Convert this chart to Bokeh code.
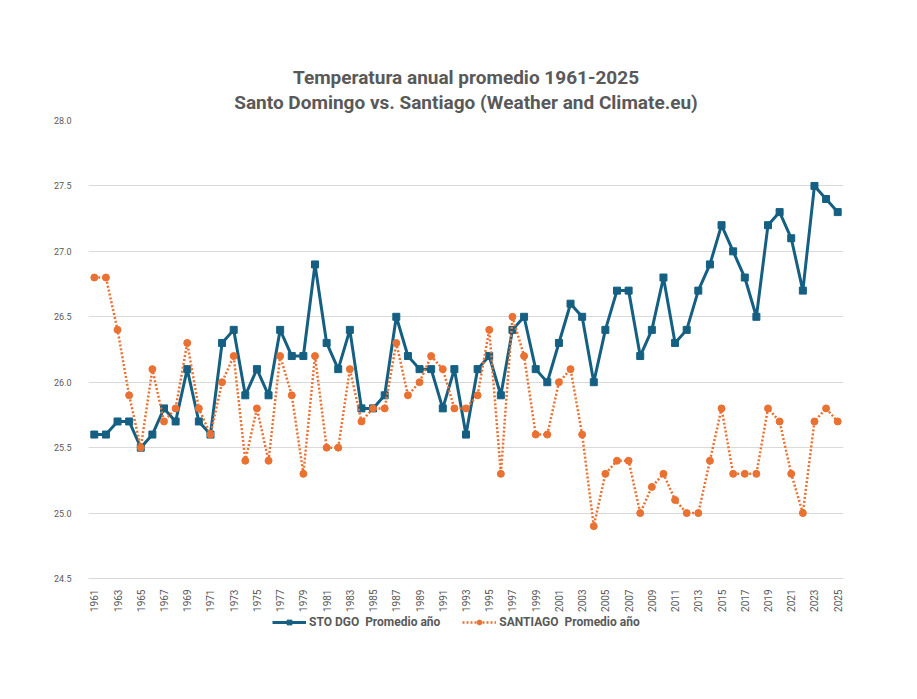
import numpy as np
from bokeh.plotting import figure
from bokeh.layouts import column
from bokeh.models import (ColumnDataSource, FixedTicker, PrintfTickFormatter, Legend,
                          LegendItem, Range1d, Title)
from bokeh.embed import file_html
from bokeh.resources import INLINE

years = list(range(1961, 2026))
sto_dgo = [25.6, 25.6, 25.7, 25.7, 25.5, 25.6, 25.8, 25.7, 26.1, 25.7,
           25.6, 26.3, 26.4, 25.9, 26.1, 25.9, 26.4, 26.2, 26.2, 26.9,
           26.3, 26.1, 26.4, 25.8, 25.8, 25.9, 26.5, 26.2, 26.1, 26.1,
           25.8, 26.1, 25.6, 26.1, 26.2, 25.9, 26.4, 26.5, 26.1, 26.0,
           26.3, 26.6, 26.5, 26.0, 26.4, 26.7, 26.7, 26.2, 26.4, 26.8,
           26.3, 26.4, 26.7, 26.9, 27.2, 27.0, 26.8, 26.5, 27.2, 27.3,
           27.1, 26.7, 27.5, 27.4, 27.3]
santiago = [26.8, 26.8, 26.4, 25.9, 25.5, 26.1, 25.7, 25.8, 26.3, 25.8,
            25.6, 26.0, 26.2, 25.4, 25.8, 25.4, 26.2, 25.9, 25.3, 26.2,
            25.5, 25.5, 26.1, 25.7, 25.8, 25.8, 26.3, 25.9, 26.0, 26.2,
            26.1, 25.8, 25.8, 25.9, 26.4, 25.3, 26.5, 26.2, 25.6, 25.6,
            26.0, 26.1, 25.6, 24.9, 25.3, 25.4, 25.4, 25.0, 25.2, 25.3,
            25.1, 25.0, 25.0, 25.4, 25.8, 25.3, 25.3, 25.3, 25.8, 25.7,
            25.3, 25.0, 25.7, 25.8, 25.7]
y_ticks = [24.5, 25.0, 25.5, 26.0, 26.5, 27.0, 27.5, 28.0]
x_ticks = years[::2]
title_line1 = "Temperatura anual promedio 1961-2025"
title_line2 = "Santo Domingo vs. Santiago (Weather and Climate.eu)"
label_sto = "STO DGO  Promedio año"
label_stgo = "SANTIAGO  Promedio año"

BLUE = "#156082"
ORANGE = "#E97132"
GRAY = "#595959"
GRID = "#d9d9d9"
FONT = "Roboto"

src = ColumnDataSource(dict(year=years, sto=sto_dgo, stgo=santiago))


def blank(height, top=0, right=0):
    f = figure(width=917, height=height, output_backend="svg", toolbar_location=None,
               title=None, x_axis_location=None, y_axis_location=None,
               x_range=Range1d(0, 1), y_range=Range1d(0, 1),
               min_border_left=0, min_border_right=right, min_border_top=top,
               min_border_bottom=0)
    f.outline_line_color = None
    f.grid.visible = False
    return f


# title strip
tf = blank(114, top=113, right=14)
t2 = Title(text=title_line2, align="center", text_font=FONT, text_font_size="19px",
           text_font_style="bold", text_color=GRAY, standoff=0)
t1 = Title(text=title_line1, align="center", text_font=FONT, text_font_size="19px",
           text_font_style="bold", text_color=GRAY, standoff=0)
tf.add_layout(t2, "above")
tf.add_layout(t1, "above")

p = figure(width=917, height=500, output_backend="svg", toolbar_location=None,
           title=None,
           x_range=Range1d(1960.5, 2025.5), y_range=Range1d(24.5, 28.0),
           min_border_left=88, min_border_right=74, min_border_top=6,
           min_border_bottom=35)
p.outline_line_color = None
p.background_fill_color = "white"
p.border_fill_color = "white"

# axes
p.yaxis.ticker = FixedTicker(ticks=y_ticks)
p.yaxis.formatter = PrintfTickFormatter(format="%.1f")
p.yaxis.axis_line_color = None
p.yaxis.major_tick_line_color = None
p.yaxis.minor_tick_line_color = None
p.yaxis.major_label_text_font = FONT
p.yaxis.major_label_text_font_size = "9px"
p.yaxis.major_label_text_color = GRAY
p.yaxis.major_label_standoff = 11

p.xaxis.ticker = FixedTicker(ticks=x_ticks)
p.xaxis.formatter = PrintfTickFormatter(format="%d")
p.xaxis.axis_line_color = GRID
p.xaxis.major_tick_line_color = None
p.xaxis.minor_tick_line_color = None
p.xaxis.major_label_orientation = np.pi / 2
p.xaxis.major_label_text_font = FONT
p.xaxis.major_label_text_font_size = "10px"
p.xaxis.major_label_text_color = GRAY
p.xaxis.major_label_standoff = 5

p.xgrid.grid_line_color = None
p.ygrid.ticker = FixedTicker(ticks=y_ticks)
p.ygrid.grid_line_color = GRID
p.ygrid.grid_line_width = 1

p.line("year", "sto", source=src, line_color=BLUE, line_width=3)
p.scatter("year", "sto", source=src, marker="square", size=7,
          fill_color=BLUE, line_color=BLUE)
p.line("year", "stgo", source=src, line_color=ORANGE, line_width=2.5, line_dash="2 2")
p.scatter("year", "stgo", source=src, marker="circle", size=7,
          fill_color=ORANGE, line_color=ORANGE)

# legend strip below the chart (renderers hold one off-screen point so that
# the legend draws their glyphs)
lg = blank(85)
e_src = ColumnDataSource(dict(x=[-5], y=[-5]))
l1 = lg.line("x", "y", source=e_src, line_color=BLUE, line_width=3)
m1 = lg.scatter("x", "y", source=e_src, marker="square", size=7,
                fill_color=BLUE, line_color=BLUE)
l2 = lg.line("x", "y", source=e_src, line_color=ORANGE, line_width=2.5, line_dash="2 2")
m2 = lg.scatter("x", "y", source=e_src, marker="circle", size=7,
                fill_color=ORANGE, line_color=ORANGE)

legend = Legend(items=[LegendItem(label=label_sto, renderers=[l1, m1]),
                       LegendItem(label=label_stgo, renderers=[l2, m2])],
                orientation="horizontal", location=(184, 70),
                border_line_color=None, background_fill_alpha=0,
                label_text_font=FONT, label_text_font_size="12px",
                label_text_font_style="bold", label_text_color=GRAY,
                glyph_width=34, glyph_height=12, spacing=22, padding=0,
                margin=0, label_standoff=3, label_height=13)
lg.add_layout(legend, "center")

layout = column(tf, p, lg, spacing=0)
open("out.html", "w").write(file_html(layout, INLINE))
